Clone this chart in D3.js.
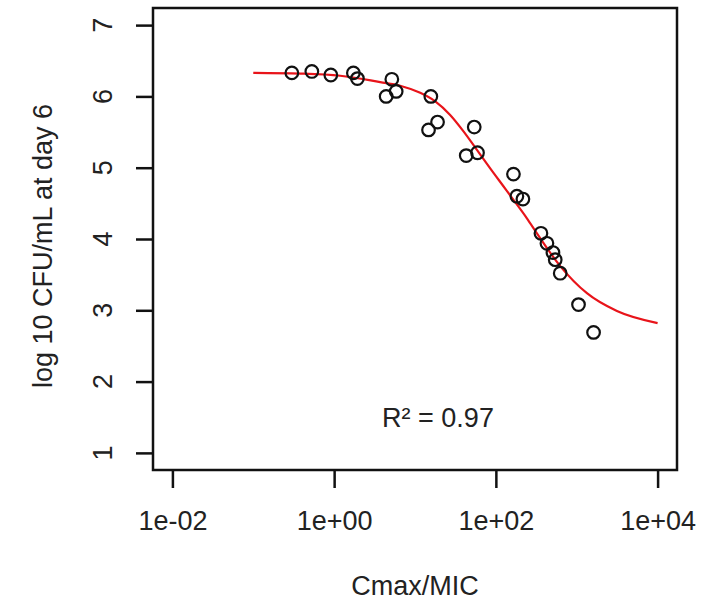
<!DOCTYPE html>
<html>
<head>
<meta charset="utf-8">
<script src="https://cdn.jsdelivr.net/npm/d3@7"></script>
<style>
  body { margin: 0; background: #fff; }
  text { font-family: "Liberation Sans", Arial, sans-serif; fill: #222; }
</style>
</head>
<body>
<div id="chart"></div>
<script>
// observed points: Cmax/MIC and log10 CFU/mL at day 6
var ratio = [0.30, 0.53, 0.91, 1.73, 1.94, 5.17, 4.40, 5.85, 15.7, 14.7, 19.0, 54.0,
             43.0, 59.3, 165, 182, 216, 361, 428, 508, 542, 625, 1052, 1615]
var cfu = [6.33, 6.35, 6.30, 6.33, 6.25, 6.24, 6.00, 6.07, 6.00, 5.53, 5.64, 5.57,
           5.17, 5.21, 4.91, 4.60, 4.56, 4.08, 3.94, 3.81, 3.71, 3.52, 3.08, 2.69]

// fitted curve
var fitX = [0.1, 0.38, 1.19, 3.71, 6.55, 11.6, 17.8, 27.2, 39.8, 58.3, 85.1, 124,
            165, 242, 322, 625, 1337, 3141, 10000]
var fitY = [6.33, 6.32, 6.29, 6.20, 6.15, 6.05, 5.93, 5.74, 5.51, 5.25, 4.99, 4.74,
            4.55, 4.29, 4.08, 3.62, 3.24, 2.99, 2.82]

var xTicks = [1e-2, 1, 1e2, 1e4]
var xTickLabels = ["1e-02", "1e+00", "1e+02", "1e+04"]
var yTicks = [1, 2, 3, 4, 5, 6, 7]
var r2Label = "R\u00b2 = 0.97"

var width = 723,
    height = 601,
    plotLeft = 153, plotRight = 677, plotTop = 8, plotBottom = 470,
    fontSize = "27px"

var svg = d3.select("#chart")
  .append("svg")
    .attr("width", width)
    .attr("height", height)

// R style: 4% padding on both ends
var x = d3.scaleLog()
  .domain([Math.pow(10, -2.24), Math.pow(10, 4.24)])
  .range([plotLeft, plotRight])

var y = d3.scaleLinear()
  .domain([0.76, 7.24])
  .range([plotBottom, plotTop])

// x axis
var gx = svg.append("g")
  .attr("transform", "translate(0," + plotBottom + ")")
  .call(d3.axisBottom(x).tickValues(xTicks).tickSize(18)
    .tickFormat(function(d, i) { return xTickLabels[i] }))
gx.select(".domain").remove()
gx.selectAll("line").attr("stroke", "#111").attr("stroke-width", 2.5)
gx.selectAll("text")
  .attr("y", 60).attr("dy", null)
  .attr("fill", "#222")
  .style("font-size", fontSize)

// y axis: ticks from the axis, labels turned like R's default las = 0
var gy = svg.append("g")
  .attr("transform", "translate(" + plotLeft + ",0)")
  .call(d3.axisLeft(y).tickValues(yTicks).tickSize(17).tickFormat(""))
gy.select(".domain").remove()
gy.selectAll("line").attr("stroke", "#111").attr("stroke-width", 2.5)

svg.selectAll(".ylab")
  .data(yTicks)
  .enter()
  .append("text")
    .attr("class", "ylab")
    .attr("transform", function(d) { return "translate(112," + y(d) + ") rotate(-90)" })
    .attr("text-anchor", "middle")
    .style("font-size", fontSize)
    .text(function(d) { return d })

// plot box
svg.append("rect")
  .attr("x", plotLeft).attr("y", plotTop)
  .attr("width", plotRight - plotLeft).attr("height", plotBottom - plotTop)
  .attr("fill", "none")
  .attr("stroke", "#111")
  .attr("stroke-width", 2.5)

// fitted curve
var line = d3.line()
  .x(function(d, i) { return x(fitX[i]) })
  .y(function(d) { return y(d) })
  .curve(d3.curveMonotoneX)

svg.append("path")
  .attr("d", line(fitY))
  .attr("fill", "none")
  .attr("stroke", "#e8141a")
  .attr("stroke-width", 2.2)

// points
svg.selectAll("circle")
  .data(ratio)
  .enter()
  .append("circle")
    .attr("cx", function(d) { return x(d) })
    .attr("cy", function(d, i) { return y(cfu[i]) })
    .attr("r", 6.3)
    .attr("fill", "none")
    .attr("stroke", "#111")
    .attr("stroke-width", 2.2)

// labels
svg.append("text")
  .attr("x", (plotLeft + plotRight) / 2)
  .attr("y", 595)
  .attr("text-anchor", "middle")
  .style("font-size", fontSize)
  .text("Cmax/MIC")

svg.append("text")
  .attr("transform", "translate(52,246) rotate(-90)")
  .attr("text-anchor", "middle")
  .style("font-size", fontSize)
  .text("log 10 CFU/mL at day 6")

svg.append("text")
  .attr("x", 438)
  .attr("y", 427)
  .attr("text-anchor", "middle")
  .style("font-size", fontSize)
  .text(r2Label)
</script>
</body>
</html>
